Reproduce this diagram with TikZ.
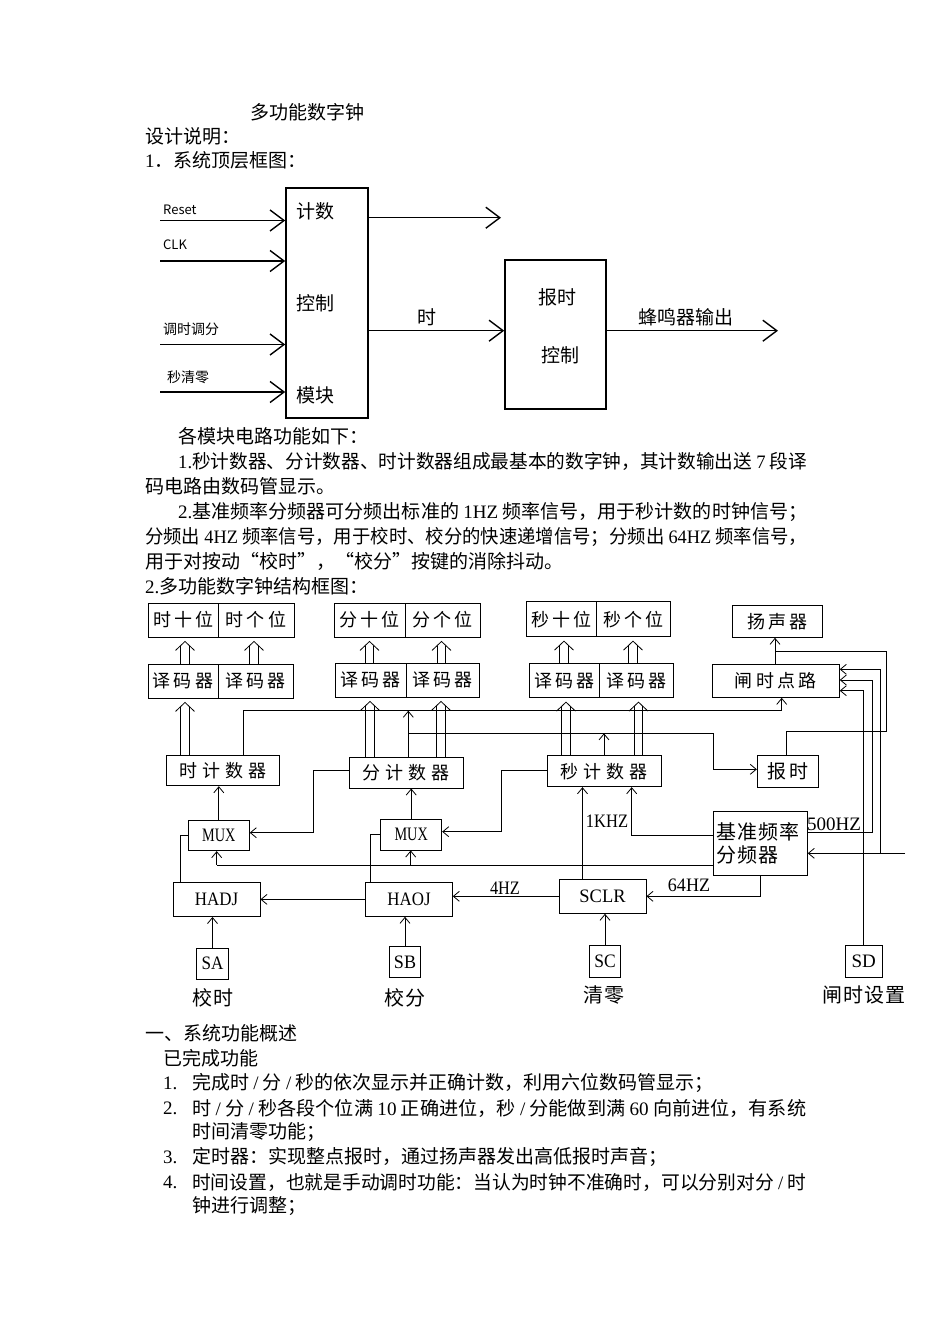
\documentclass[tikz,border=0pt]{standalone}
\usepackage{graphicx}
\usepackage{fontspec}
\setmainfont{Noto Sans CJK SC}
\newfontfamily\lat{Liberation Serif}
\newfontfamily\cjka[LetterSpace=18]{Noto Sans CJK SC}
\newfontfamily\cjkb[LetterSpace=28]{Noto Sans CJK SC}
\newfontfamily\cjkc[LetterSpace=5]{Noto Sans CJK SC}
\usetikzlibrary{arrows.meta,calc}
\newcommand\tm[1]{{\lat #1}}
\newcommand\nl[2]{\scalebox{#1}[1]{\lat #2}}
\newcommand\fsz[1]{\fontsize{#1}{#1}\selectfont}
\newcommand\fitw[2]{\resizebox{#1}{\height}{#2}}
% double (hollow) arrow: #1 x, #2 lower anchor, #3 upper anchor
\newcommand\dbl[3]{%
  \path (#1,0 |- #2) coordinate (dbA) (#1,0 |- #3) coordinate (dbB);
  \draw[wire] ([xshift=-4.3pt]dbA) -- ([xshift=-4.3pt,yshift=-8.1pt]dbB);
  \draw[wire] ([xshift=4.3pt]dbA) -- ([xshift=4.3pt,yshift=-8.1pt]dbB);
  \draw[wire] ([xshift=-9.5pt,yshift=-13pt]dbB) -- ([yshift=-4pt]dbB) -- ([xshift=9.5pt,yshift=-13pt]dbB);}
\begin{document}
\begin{tikzpicture}[x=1pt,y=-1pt,
  every node/.style={inner sep=0pt},
  txt/.style={anchor=west,font=\fsz{19}},
  bigbox/.style={draw,line width=1.6pt},
  bx/.style={draw,line width=0.9pt},
  wire/.style={line width=0.8pt},
  arr/.style={wire,-{Straight Barb[length=6pt,width=10pt]}},
  barr/.style={line width=1.4pt,-{Straight Barb[length=14pt,width=21pt]}},
  dtxt/.style={font=\cjka\fsz{18}},
  ctxt/.style={font=\cjkb\fsz{18}},
  ltxt/.style={font=\fsz{19}},
]
\fill[white] (0,0) rectangle (950,1344);
\path[use as bounding box] (0,0) rectangle (950,1344);

% ---------- heading text ----------
\node[txt] (h1) at (250,112) {多功能数字钟};
\node[txt] (h2) at (145,136) {设计说明：};
\node[txt] (h3) at (145,160) {\tm{1}．系统顶层框图：};

% ---------- top diagram ----------
\node[bigbox,minimum width=82pt,minimum height=230pt] (ctl) at (327,303) {};
\node[bigbox,minimum width=101pt,minimum height=149pt] (bs) at (555.5,334.5) {};
\node[txt] (c1) at (296,211) {计数};
\node[txt] (c2) at (296,303) {控制};
\node[txt] (c3) at (296,395) {模块};
\node[ltxt] (b1) at (557,297) {报时};
\node[ltxt] (b2) at (560,355) {控制};
\node[anchor=west,font=\fsz{13}] (lR) at (163,210) {Reset};
\node[anchor=west,font=\fsz{13}] (lC) at (163,245) {CLK};
\node[anchor=west,font=\fsz{14}] (lT) at (163,329) {调时调分};
\node[anchor=west,font=\fsz{14}] (lS) at (167,377) {秒清零};
\coordinate (iR) at (160,220.5);
\coordinate (iC) at (160,261);
\coordinate (iT) at (160,344.5);
\coordinate (iS) at (160,392);
\draw[barr] (iR) -- (ctl.west |- iR);
\draw[barr] (iC) -- (ctl.west |- iC);
\draw[barr] (iT) -- (ctl.west |- iT);
\draw[barr] (iS) -- (ctl.west |- iS);
\coordinate (o1) at (501,217.7);
\draw[barr] (ctl.east |- o1) -- (o1);
\draw[barr] (ctl.east |- 0,330.7) -- (bs.west |- 0,330.7);
\node[ltxt] (lshi) at (427,317) {时};
\coordinate (o2) at (778,330.7);
\draw[barr] (bs.east |- o2) -- (o2);
\node[txt] (lout) at (638,317) {蜂鸣器输出};

% ---------- paragraph ----------
\node[txt] (p1) at (178,436) {各模块电路功能如下：};
\node[txt] (p2) at (178,461) {\fitw{629pt}{\tm{1.}秒计数器、分计数器、时计数器组成最基本的数字钟，其计数输出送 \tm{7} 段译}};
\node[txt] (p3) at (145,486) {码电路由数码管显示。};
\node[txt] (p4) at (178,512) {\fitw{629pt}{\tm{2.}基准频率分频器可分频出标准的 \tm{1HZ} 频率信号，用于秒计数的时钟信号；}};
\node[txt] (p5) at (145,537) {\fitw{662pt}{分频出 \tm{4HZ} 频率信号，用于校时、校分的快速递增信号；分频出 \tm{64HZ} 频率信号，}};
\node[txt] (p6) at (145,561) {用于对按动“校时”，“校分”按键的消除抖动。};
\node[txt] (p7) at (145,586) {\tm{2.}多功能数字钟结构框图：};

% ---------- structure diagram: boxes ----------
\node[bx,dtxt,minimum width=69.5pt,minimum height=34pt] (dh1) at (183.25,620) {时十位};
\node[bx,dtxt,minimum width=76pt,minimum height=34pt] (dh2) at (256,620) {时个位};
\node[bx,dtxt,minimum width=71pt,minimum height=34pt] (dm1) at (369.5,620) {分十位};
\node[bx,dtxt,minimum width=75pt,minimum height=34pt] (dm2) at (442.5,620) {分个位};
\node[bx,dtxt,minimum width=70pt,minimum height=35pt] (ds1) at (561.7,619.2) {秒十位};
\node[bx,dtxt,minimum width=74pt,minimum height=35pt] (ds2) at (633.7,619.2) {秒个位};

\node[bx,dtxt,minimum width=70pt,minimum height=34pt] (eh1) at (183,681) {译码器};
\node[bx,dtxt,minimum width=75pt,minimum height=34pt] (eh2) at (255.5,681) {译码器};
\node[bx,dtxt,minimum width=71pt,minimum height=34pt] (em1) at (370.5,680) {译码器};
\node[bx,dtxt,minimum width=73pt,minimum height=34pt] (em2) at (442.5,680) {译码器};
\node[bx,dtxt,minimum width=70pt,minimum height=34.4pt] (es1) at (564.3,680.5) {译码器};
\node[bx,dtxt,minimum width=74pt,minimum height=34.4pt] (es2) at (636.3,680.5) {译码器};

\node[bx,dtxt,minimum width=90pt,minimum height=32.3pt] (spk) at (777.3,621.2) {扬声器};
\node[bx,dtxt,minimum width=127pt,minimum height=33.3pt] (alarm) at (775.8,680.7) {闸时点路};

\node[bx,ctxt,minimum width=112.3pt,minimum height=30.7pt] (cnth) at (222.9,770.4) {时计数器};
\node[bx,ctxt,minimum width=114pt,minimum height=31pt] (cntm) at (406,772.5) {分计数器};
\node[bx,ctxt,minimum width=113.3pt,minimum height=31pt] (cnts) at (604.4,771.2) {秒计数器};
\node[bx,font=\cjka\fsz{19},minimum width=61pt,minimum height=31.6pt] (chime) at (787.8,771.5) {报时};

\node[bx,font=\cjkc\fontsize{20}{23.4}\selectfont,align=left,text width=88pt,minimum width=94pt,minimum height=63.3pt] (div) at (760.3,843.3) {基准频率\\分频器};

\node[bx,ltxt,minimum width=61pt,minimum height=30.7pt] (muxh) at (218.8,835.3) {\nl{0.75}{MUX}};
\node[bx,ltxt,minimum width=61pt,minimum height=31pt] (muxm) at (411.2,834.5) {\nl{0.75}{MUX}};
\node[bx,ltxt,minimum width=87pt,minimum height=34pt] (hadj) at (216.5,899.5) {\nl{0.89}{HADJ}};
\node[bx,ltxt,minimum width=86.6pt,minimum height=33.8pt] (haoj) at (409,899.4) {\nl{0.89}{HAOJ}};
\node[bx,ltxt,minimum width=87pt,minimum height=34pt] (sclr) at (602.5,896.3) {\nl{0.97}{SCLR}};

\node[bx,ltxt,minimum width=31.6pt,minimum height=30.7pt] (SA) at (212.5,963.7) {\nl{0.9}{SA}};
\node[bx,ltxt,minimum width=31.4pt,minimum height=30.6pt] (SB) at (405,962) {\nl{0.95}{SB}};
\node[bx,ltxt,minimum width=31.4pt,minimum height=31.6pt] (SC) at (605,961.5) {\nl{0.92}{SC}};
\node[bx,ltxt,minimum width=37.3pt,minimum height=31.6pt] (SD) at (863.7,961.5) {\nl{1}{SD}};

\node[font=\cjkc\fsz{20}] (lSA) at (212.5,998) {校时};
\node[font=\cjkc\fsz{20}] (lSB) at (405,998) {校分};
\node[font=\cjkc\fsz{20}] (lSC) at (604,995) {清零};
\node[font=\cjkc\fsz{20}] (lSD) at (863.7,995) {闸时设置};

\node[ltxt] (f1k) at (607,821) {\nl{0.87}{1KHZ}};
\node[ltxt] (f500) at (834,824) {\nl{1}{500HZ}};
\node[ltxt] (f4) at (505,888) {\nl{0.86}{4HZ}};
\node[ltxt] (f64) at (689,885) {\nl{0.95}{64HZ}};

% ---------- structure diagram: double arrows ----------
\dbl{185}{eh1.north}{dh1.south}
\dbl{254}{eh2.north}{dh2.south}
\dbl{369.5}{em1.north}{dm1.south}
\dbl{441.5}{em2.north}{dm2.south}
\dbl{564}{es1.north}{ds1.south}
\dbl{633}{es2.north}{ds2.south}
\dbl{185}{cnth.north}{eh1.south}
\dbl{370}{cntm.north}{em1.south}
\dbl{441}{cntm.north}{em2.south}
\dbl{566}{cnts.north}{es1.south}
\dbl{638.5}{cnts.north}{es2.south}

% ---------- structure diagram: wires ----------
% hour counter to alarm circuit
\draw[arr] (243,0 |- cnth.north) |- (781.7,710.7) -- (781.7,0 |- alarm.south);
% minute counter output
\draw[arr] (408.3,0 |- cntm.north) -- (408.3,710.7);
\draw[arr] (408.3,733.3) -| (713.3,769.3) -- (chime.west |- 0,769.3);
% second counter output
\draw[arr] (604,0 |- cnts.north) -- (604,733.3);
% alarm circuit to speaker
\draw[arr] (775,0 |- alarm.north) -- (775,0 |- spk.south);
% chime to speaker
\draw[wire] (786,0 |- chime.north) |- (886.7,731.7) |- (775,651.7);
% inputs into alarm circuit
\draw[arr] (SD.north) |- (alarm.east |- 0,690.7);
\draw[arr] (div.east |- 0,832.7) -| (872,680) -- (alarm.east |- 0,680);
\coordinate (clkin) at (905,853.3);
\draw[arr] (clkin) -- (div.east |- clkin);
\draw[arr] (880,853.3) |- (alarm.east |- 0,669.3);
% divider outputs
\draw[arr] (div.west |- 0,835) -| (631.7,0 |- cnts.south);
\draw[wire] (div.west |- 0,865) -- (216.7,865);
\draw[arr] (216.7,865) -- (216.7,0 |- muxh.south);
\draw[arr] (410.7,865) -- (410.7,0 |- muxm.south);
\draw[arr] (760,0 |- div.south) |- (sclr.east);
% SCLR
\draw[arr] (582.5,0 |- sclr.north) -- (582.5,0 |- cnts.south);
\draw[arr] (sclr.west) -- (haoj.east |- sclr.west);
\draw[arr] (haoj.west) -- (hadj.east |- haoj.west);
% switches
\draw[arr] (SA.north) -- (SA.north |- hadj.south);
\draw[arr] (SB.north) -- (SB.north |- haoj.south);
\draw[arr] (SC.north) -- (SC.north |- sclr.south);
% adjust to MUX
\draw[wire] (180.7,0 |- hadj.north) |- (muxh.west);
\draw[wire] (370.7,0 |- haoj.north) |- (muxm.west);
% MUX to counters
\draw[arr] (muxh.north) -- (muxh.north |- cnth.south);
\draw[arr] (muxm.north) -- (muxm.north |- cntm.south);
% carries
\draw[arr] (cntm.west |- 0,770) -| (313.3,832.7) -- (muxh.east |- 0,832.7);
\draw[arr] (cnts.west |- 0,770) -| (501.7,831.7) -- (muxm.east |- 0,831.7);

% ---------- bottom text ----------
\node[txt] (q1) at (145,1033) {一、系统功能概述};
\node[txt] (q2) at (163,1058) {已完成功能};
\node[txt] (n1) at (163,1083) {\tm{1.}};
\node[txt] (q3) at (192,1083) {完成时 \tm{/} 分 \tm{/} 秒的依次显示并正确计数，利用六位数码管显示；};
\node[txt] (n2) at (163,1108) {\tm{2.}};
\node[txt] (q4) at (192,1108) {\fitw{614pt}{时 \tm{/} 分 \tm{/} 秒各段个位满 \tm{10} 正确进位，秒 \tm{/} 分能做到满 \tm{60} 向前进位，有系统}};
\node[txt] (q5) at (192,1132) {时间清零功能；};
\node[txt] (n3) at (163,1157) {\tm{3.}};
\node[txt] (q6) at (192,1157) {定时器：实现整点报时，通过扬声器发出高低报时声音；};
\node[txt] (n4) at (163,1182) {\tm{4.}};
\node[txt] (q7) at (192,1182) {\fitw{614pt}{时间设置，也就是手动调时功能：当认为时钟不准确时，可以分别对分 \tm{/} 时}};
\node[txt] (q8) at (192,1206) {钟进行调整；};
\end{tikzpicture}
\end{document}
